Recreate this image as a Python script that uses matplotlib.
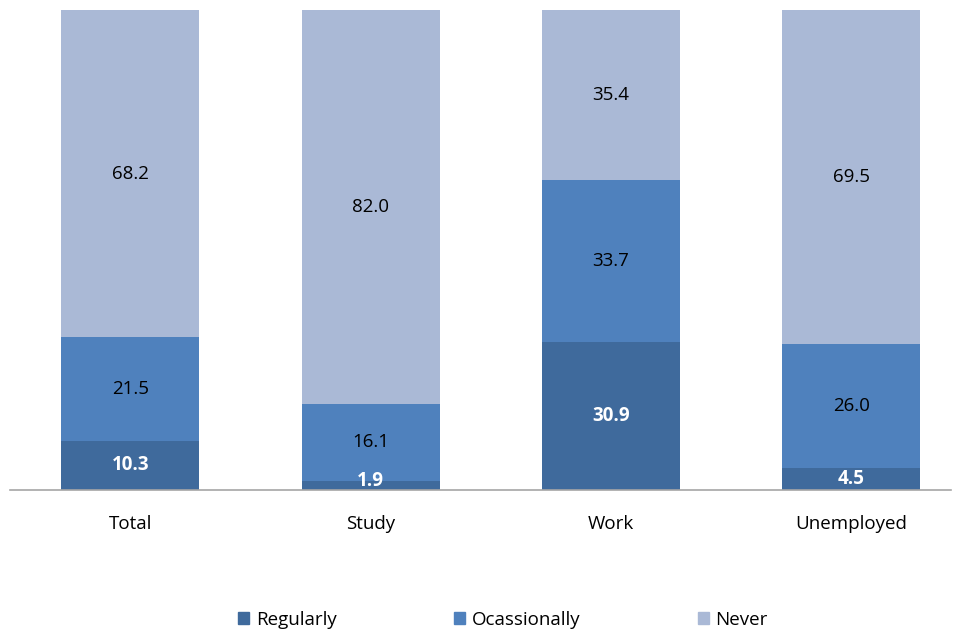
import matplotlib
matplotlib.use("Agg")
import matplotlib.pyplot as plt
from matplotlib.patches import Patch

categories = ["Total", "Study", "Work", "Unemployed"]
regularly = [10.3, 1.9, 30.9, 4.5]
occasionally = [21.5, 16.1, 33.7, 26.0]
never = [68.2, 82.0, 35.4, 69.5]
series_names = ["Regularly", "Ocassionally", "Never"]
colors = ["#3F6A9C", "#4F81BD", "#AAB9D6"]

plt.rcParams['font.family'] = ['Open Sans', 'DejaVu Sans']
FS = 13.5

fig = plt.figure(figsize=(9.61, 6.34), dpi=100)
ax = fig.add_axes([10/961, 1-490/634, 941/961, 480/634])

x = list(range(len(categories)))
w = 0.574
bottom = [0]*len(categories)
for vals, col, name in zip([regularly, occasionally, never], colors, series_names):
    ax.bar(x, vals, w, bottom=bottom, color=col, label=name, linewidth=0)
    for xi, v, b in zip(x, vals, bottom):
        if name == "Regularly":
            ax.text(xi, b + max(v, 4.5)/2 - (0.4 if v < 4 else 0), f"{v:.1f}", ha="center", va="center",
                    color="white", fontsize=FS, fontweight="bold")
        else:
            ax.text(xi, b + v/2, f"{v:.1f}", ha="center", va="center",
                    color="black", fontsize=FS)
    bottom = [b + v for b, v in zip(bottom, vals)]

ax.set_xlim(-0.5, 3.415)
ax.set_ylim(0, 100)
ax.set_yticks([])
ax.set_xticks(x)
ax.set_xticklabels(categories, fontsize=FS)
ax.tick_params(axis="x", length=0, pad=18)
for s in ["top", "right", "left"]:
    ax.spines[s].set_visible(False)
ax.spines["bottom"].set_color("#A6A6A6")
ax.spines["bottom"].set_linewidth(1.2)

handles = [Patch(color=c, label=n) for c, n in zip(colors, series_names)]
fig.legend(handles=handles, loc="center", bbox_to_anchor=(503/961, 1-620/634), ncol=3,
           frameon=False, fontsize=FS, handlelength=0.6, handleheight=0.6,
           handletextpad=0.35, columnspacing=6.25)

fig.savefig("out.png", dpi=100)
